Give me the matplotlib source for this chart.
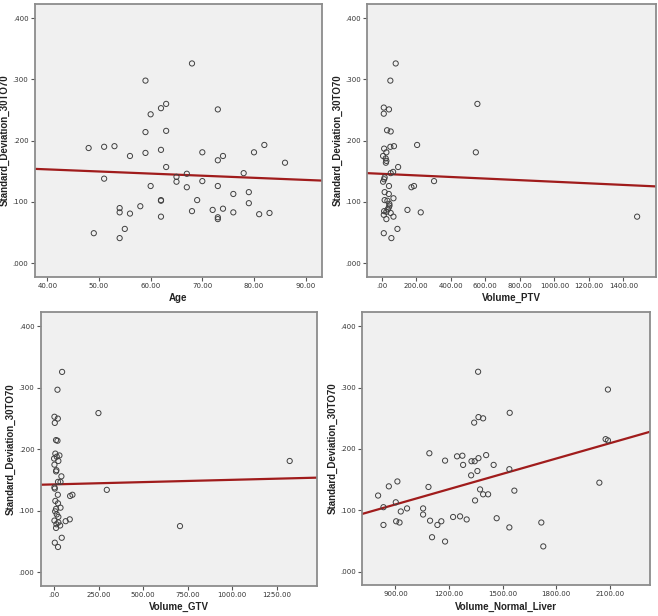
import numpy as np
import matplotlib
matplotlib.use("Agg")
import matplotlib.pyplot as plt
from matplotlib import ticker as mticker

# shared response
y_label = "Standard_Deviation_30TO70"

# panel 1: Age
age_x = [48, 51, 53, 49, 51, 54, 54, 54, 55, 56, 56, 58, 59, 59, 59, 60, 60, 62, 62, 62, 62, 62,
         63, 63, 63, 65, 65, 67, 67, 68, 68, 69, 70, 70, 72, 73, 73, 73, 73, 73, 74, 74, 76, 76,
         78, 79, 79, 80, 81, 82, 83, 86]
age_y = [0.188, 0.190, 0.191, 0.049, 0.138, 0.090, 0.083, 0.041, 0.056, 0.081, 0.175, 0.093,
         0.298, 0.214, 0.180, 0.243, 0.126, 0.253, 0.185, 0.103, 0.102, 0.076, 0.260, 0.216,
         0.157, 0.141, 0.133, 0.146, 0.124, 0.326, 0.085, 0.103, 0.181, 0.134, 0.087, 0.251,
         0.168, 0.126, 0.075, 0.072, 0.175, 0.089, 0.113, 0.083, 0.147, 0.116, 0.098, 0.181,
         0.080, 0.193, 0.082, 0.164]

# panel 2: Volume_PTV
ptv_x = [81, 50, 12, 42, 12, 31, 52, 205, 14, 50, 71, 27, 8, 23, 27, 95, 66, 52, 17, 14, 8, 303,
         42, 172, 187, 17, 41, 68, 17, 33, 44, 41, 14, 27, 52, 12, 68, 27, 149, 226, 91, 12, 56,
         554, 545, 1479, 24, 45, 35]
ptv_y = [0.326, 0.298, 0.254, 0.251, 0.244, 0.217, 0.215, 0.193, 0.187, 0.190, 0.191, 0.181,
         0.175, 0.171, 0.167, 0.157, 0.149, 0.147, 0.140, 0.137, 0.133, 0.134, 0.126, 0.124,
         0.126, 0.116, 0.113, 0.106, 0.103, 0.102, 0.097, 0.091, 0.085, 0.084, 0.082, 0.079,
         0.076, 0.072, 0.087, 0.083, 0.056, 0.049, 0.041, 0.260, 0.181, 0.076, 0.164, 0.094,
         0.088]

# panel 3: Volume_GTV
gtv_x = [45, 19, 249, 2, 21, 4, 11, 19, 7, 30, 15, 0, 24, 2, 13, 11, 41, 22, 36, 2, 4, 296, 21,
         90, 103, 7, 22, 36, 11, 6, 15, 24, 2, 24, 65, 88, 34, 11, 43, 4, 22, 707, 1323, 13]
gtv_y = [0.326, 0.297, 0.259, 0.253, 0.250, 0.243, 0.215, 0.214, 0.193, 0.190, 0.188, 0.185,
         0.181, 0.175, 0.166, 0.164, 0.156, 0.147, 0.147, 0.138, 0.136, 0.134, 0.126, 0.124,
         0.126, 0.116, 0.112, 0.105, 0.103, 0.099, 0.094, 0.090, 0.084, 0.081, 0.083, 0.086,
         0.076, 0.072, 0.056, 0.048, 0.041, 0.075, 0.181, 0.078]

# panel 4: Volume_Normal_Liver
liver_x = [803, 833, 833, 863, 902, 904, 911, 923, 930, 965, 1055, 1055, 1085, 1090, 1094, 1105,
           1135, 1157, 1178, 1178, 1223, 1245, 1262, 1275, 1279, 1299, 1324, 1326, 1341, 1344,
           1346, 1359, 1363, 1365, 1365, 1374, 1391, 1391, 1408, 1419, 1450, 1467, 1538, 1540,
           1538, 1566, 1717, 1728, 2042, 2077, 2090, 2090]
liver_y = [0.124, 0.105, 0.076, 0.139, 0.113, 0.082, 0.147, 0.080, 0.098, 0.103, 0.103, 0.093,
           0.138, 0.193, 0.083, 0.056, 0.076, 0.082, 0.181, 0.049, 0.089, 0.188, 0.090, 0.189,
           0.174, 0.085, 0.157, 0.180, 0.243, 0.180, 0.116, 0.164, 0.326, 0.252, 0.185, 0.134,
           0.250, 0.126, 0.190, 0.126, 0.174, 0.087, 0.072, 0.259, 0.167, 0.132, 0.080, 0.041,
           0.145, 0.216, 0.214, 0.297]

# fit lines (intercept, slope) as drawn in the original
fits = {
    "Age": (0.1669, -0.000344),
    "Volume_PTV": (0.1459, -1.294e-5),
    "Volume_GTV": (0.1429, 7.43e-6),
    "Volume_Normal_Liver": (0.0346, 8.32e-5),
}

panels = [
    ("Age", age_x, age_y, (37.56, 93.1), np.arange(40, 91, 10),
     [0.0527, 0.5508, 0.4362, 0.4427]),
    ("Volume_PTV", ptv_x, ptv_y, (-83.5, 1590), np.arange(0, 1401, 200),
     [0.5582, 0.5508, 0.4392, 0.4427]),
    ("Volume_GTV", gtv_x, gtv_y, (-75, 1475), np.arange(0, 1251, 250),
     [0.0619, 0.0492, 0.4195, 0.4438]),
    ("Volume_Normal_Liver", liver_x, liver_y, (713, 2324), np.arange(900, 2101, 300),
     [0.5502, 0.0503, 0.4372, 0.4427]),
]


def fmt_x(v, pos):
    s = "%.2f" % v
    return s[1:] if s.startswith("0.") else s


fig = plt.figure(figsize=(6.58, 6.16), dpi=100)
fig.patch.set_facecolor("white")

for name, xs, ys, xlim, xticks, rect in panels:
    ax = fig.add_axes(rect)
    ax.set_facecolor("#f0f0f0")
    for sp in ax.spines.values():
        sp.set_color("#8c8c8c")
        sp.set_linewidth(1.3)
    ax.scatter(xs, ys, s=14, facecolors="none", edgecolors="#404040", linewidths=0.7, zorder=3)
    b0, b1 = fits[name]
    lx = np.array(xlim)
    ax.plot(lx, b0 + b1 * lx, color="#a01c1c", lw=1.6, zorder=2)
    ax.set_xlim(xlim)
    ax.set_ylim(-0.022, 0.423)
    ax.set_xticks(xticks)
    ax.set_yticks([0, 0.1, 0.2, 0.3, 0.4])
    ax.xaxis.set_major_formatter(mticker.FuncFormatter(fmt_x))
    ax.yaxis.set_major_formatter(mticker.FuncFormatter(lambda v, p: ("%.3f" % v)[1:]))
    ax.tick_params(direction="out", length=3, width=0.8, color="#555555",
                   labelsize=5, labelcolor="#333333", pad=1.5)
    ax.set_xlabel(name, fontsize=7, fontweight="bold", family="Liberation Sans",
                  color="#222222", labelpad=3)
    ax.set_ylabel(y_label, fontsize=7, fontweight="bold", family="Liberation Sans",
                  color="#222222", labelpad=2)

fig.savefig("out.png", dpi=100)
